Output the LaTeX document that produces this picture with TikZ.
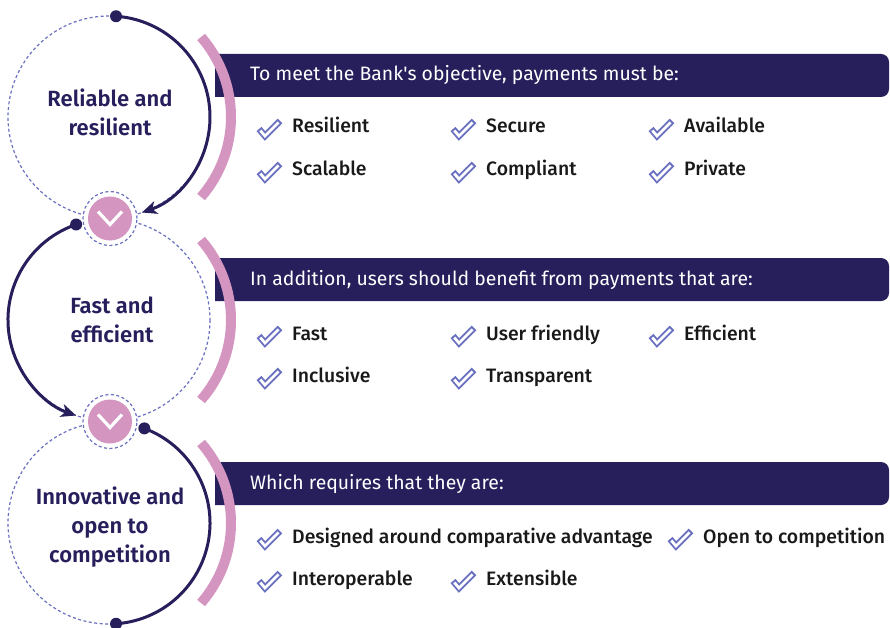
\documentclass[tikz,border=0pt]{standalone}
\usepackage{fontspec}
\setmainfont{Fira Sans}
\newfontfamily\medfont{Fira Sans Medium}
\newfontfamily\semifont{Fira Sans SemiBold}
\usetikzlibrary{arrows.meta,calc}
\definecolor{colNavy}{RGB}{38,31,92}
\definecolor{colPink}{RGB}{212,150,192}
\definecolor{colPeri}{RGB}{105,112,192}
\colorlet{colText}{black!90}
\tikzstyle{guide}=[draw=colPeri, line width=1.2pt, dash pattern=on 3pt off 2.5pt]
\tikzstyle{flow}=[draw=colNavy, line width=3pt]
\tikzstyle{flowarrow}=[flow, -{Stealth[length=15pt,width=13pt,inset=4pt]}]
\tikzstyle{pinkarc}=[draw=colPink, line width=10pt]
\tikzstyle{ring}=[circle, guide, fill=white, minimum size=54pt, inner sep=0pt]
\tikzstyle{chev}=[circle, fill=colPink, minimum size=44pt, inner sep=0pt]
\tikzstyle{vee}=[draw=white, line width=3.2pt]
\tikzstyle{dot}=[circle, fill=colNavy, inner sep=0pt, minimum size=12pt]
\tikzstyle{banner}=[fill=colNavy]
\tikzstyle{bannertext}=[anchor=base west, inner sep=0pt, text=white, font=\fontsize{19.4}{23}\selectfont]
\tikzstyle{item}=[anchor=base west, inner sep=0pt, text=colText, font=\medfont\fontsize{19.4}{23}\selectfont]
\tikzstyle{stage}=[align=center, inner sep=0pt, text=colNavy, font=\semifont\fontsize{22}{29}\selectfont]
\tikzset{tickmark/.pic={
  \draw[colPeri, line width=6.5pt] (-6,-7) -- (0,0) -- (15,-15);
  \draw[white, line width=2.8pt, shorten <=2pt, shorten >=2pt] (-6,-7) -- (0,0) -- (15,-15);
}}

\begin{document}
\begin{tikzpicture}[x=1pt, y=-1pt]
	\useasboundingbox (0,0) rectangle (890,628);
	\coordinate (c1) at (109,117);
	\coordinate (c2) at (109,320);
	\coordinate (c3) at (109,523);

	%%% Banners
	\fill[banner] (215,54) -- (881,54) arc[start angle=-90, end angle=0, radius=8] -- (889,89) arc[start angle=0, end angle=90, radius=8] -- (215,97) -- cycle;
	\fill[banner] (215,258) -- (881,258) arc[start angle=-90, end angle=0, radius=8] -- (889,293) arc[start angle=0, end angle=90, radius=8] -- (215,301) -- cycle;
	\fill[banner] (215,462) -- (881,462) arc[start angle=-90, end angle=0, radius=8] -- (889,497) arc[start angle=0, end angle=90, radius=8] -- (215,505) -- cycle;
	\node[bannertext] (b1) at (250,81)  {To meet the Bank\textquotesingle s objective, payments must be:};
	\node[bannertext] (b2) at (250,285) {In addition, users should benefit from payments that are:};
	\node[bannertext] (b3) at (250,489) {Which requires that they are:};

	%%% Pink arcs
	\draw[pinkarc] (c1) ++(-41:122) arc[start angle=-41, end angle=41, radius=122];
	\draw[pinkarc] (c2) ++(-41:122) arc[start angle=-41, end angle=41, radius=122];
	\draw[pinkarc] (c3) ++(-41:122) arc[start angle=-41, end angle=41, radius=122];

	%%% Dashed circles and chevrons
	\draw[guide] (c1) circle[radius=101];
	\draw[guide] (c2) circle[radius=101];
	\draw[guide] (c3) circle[radius=101];
	\node[ring] (r1) at (110,218.5) {};
	\node[ring] (r2) at (110,421.5) {};
	\node[chev] (v1) at (r1) {};
	\node[chev] (v2) at (r2) {};
	\draw[vee] ($(v1)+(-12,-7)$) -- ($(v1)+(0,6)$) -- ($(v1)+(12,-7)$);
	\draw[vee] ($(v2)+(-12,-7)$) -- ($(v2)+(0,6)$) -- ($(v2)+(12,-7)$);

	%%% Flow arcs
	\coordinate (s1) at ($(c1)+(-86:101)$);
	\coordinate (s2) at ($(c2)+(-109:101)$);
	\coordinate (s3) at ($(c3)+(-69.5:101)$);
	\coordinate (e3) at ($(c3)+(86:101)$);
	\draw[flowarrow] (s1) arc[start angle=-86, end angle=71, radius=101];
	\draw[flowarrow] (s2) arc[start angle=-109, end angle=-251, radius=101];
	\draw[flow] (s3) arc[start angle=-69.5, end angle=86, radius=101];
	\node[dot] (d1) at (s1) {};
	\node[dot] (d2) at (s2) {};
	\node[dot] (d3) at (s3) {};
	\node[dot] (d4) at (e3) {};

	%%% Stage labels
	\node[stage] (t1) at (110,112) {Reliable and\\resilient};
	\node[stage] (t2) at (112,320) {Fast and\\efficient};
	\node[stage] (t3) at (110,527) {Innovative and\\open to\\competition};

	%%% First block
	\node[item] (i11) at (292,133) {Resilient};   \pic at (265,136) {tickmark};
	\node[item] (i12) at (486,133) {Secure};      \pic at (459,136) {tickmark};
	\node[item] (i13) at (684,133) {Available};   \pic at (657,136) {tickmark};
	\node[item] (i21) at (292,176) {Scalable};    \pic at (265,179) {tickmark};
	\node[item] (i22) at (486,176) {Compliant};   \pic at (459,179) {tickmark};
	\node[item] (i23) at (684,176) {Private};     \pic at (657,179) {tickmark};

	%%% Second block
	\node[item] (i31) at (292,340) {Fast};          \pic at (265,343) {tickmark};
	\node[item] (i32) at (486,340) {User friendly}; \pic at (459,343) {tickmark};
	\node[item] (i33) at (684,340) {Efficient};     \pic at (657,343) {tickmark};
	\node[item] (i41) at (292,382) {Inclusive};     \pic at (265,385) {tickmark};
	\node[item] (i42) at (486,382) {Transparent};   \pic at (459,385) {tickmark};

	%%% Third block
	\node[item] (i51) at (292,543) {Designed around comparative advantage}; \pic at (265,546) {tickmark};
	\node[item] (i52) at (703,543) {Open to competition};                   \pic at (676,546) {tickmark};
	\node[item] (i61) at (292,585) {Interoperable};                         \pic at (265,588) {tickmark};
	\node[item] (i62) at (486,585) {Extensible};                            \pic at (459,588) {tickmark};
\end{tikzpicture}
\end{document}
